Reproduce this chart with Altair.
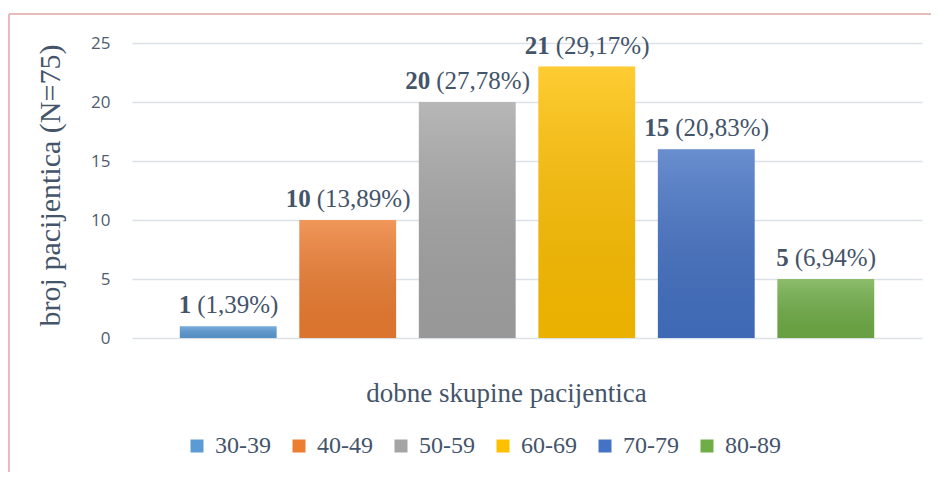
import altair as alt
import pandas as pd

categories = ["30-39", "40-49", "50-59", "60-69", "70-79", "80-89"]
bar_heights = [1, 10, 20, 23, 16, 5]
counts = [1, 10, 20, 21, 15, 5]
percents = ["(1,39%)", "(13,89%)", "(27,78%)", "(29,17%)", "(20,83%)", "(6,94%)"]
colors = ["#5B9BD5", "#ED7D31", "#A5A5A5", "#FFC000", "#4472C4", "#70AD47"]
y_ticks = [0, 5, 10, 15, 20, 25]

df = pd.DataFrame({
    "grupa": categories,
    "visina": bar_heights,
    "broj": [str(c) for c in counts],
    "postotak": percents,
})

TXT = "#44546A"
SERIF = "'Liberation Serif', 'Times New Roman', 'DejaVu Serif', serif"

x = alt.X(
    "grupa:N", sort=categories,
    scale=alt.Scale(paddingInner=0.19, paddingOuter=0.4),
    axis=alt.Axis(
        title="dobne skupine pacijentica", labels=False, ticks=False, domain=False,
        titleFont=SERIF, titleFontSize=27, titleFontWeight="normal", titleColor=TXT,
        titleX=374, titleY=55, titleAlign="center", titleBaseline="middle",
    ),
)
y = alt.Y(
    "visina:Q",
    scale=alt.Scale(domain=[0, 25]),
    axis=alt.Axis(
        values=y_ticks, title="broj pacijentica (N=75)", grid=True,
        gridColor="#DCE1E7", gridWidth=1.6, domain=False, ticks=False,
        labelFont="Open Sans", labelFontSize=17, labelColor="#4F5B6E", labelPadding=22,
        titleFont=SERIF, titleFontSize=30, titleFontWeight="normal", titleColor=TXT,
        titleAngle=270, titleX=-82, titleY=142, titleAlign="center", titleBaseline="middle",
    ),
)

base = alt.Chart(df)

bars = base.mark_bar().encode(
    x=x, y=y,
    color=alt.Color(
        "grupa:N", sort=categories,
        scale=alt.Scale(domain=categories, range=colors),
        legend=alt.Legend(
            orient="none", legendX=53, legendY=391, direction="horizontal", columns=6,
            title=None, symbolType="square", symbolSize=169, symbolStrokeWidth=0,
            labelFont=SERIF, labelFontSize=24, labelColor=TXT, labelOffset=6,
            columnPadding=16, padding=0,
        ),
    ),
)

shine = base.mark_bar(
    color=alt.Gradient(
        gradient="linear",
        stops=[
            alt.GradientStop(color="rgba(255,255,255,0.2)", offset=0),
            alt.GradientStop(color="rgba(0,0,0,0.08)", offset=1),
        ],
        x1=0, x2=0, y1=0, y2=1,
    )
).encode(x=x, y=y)

num = base.mark_text(
    font=SERIF, fontSize=25, fontWeight="bold", color=TXT,
    align="right", baseline="alphabetic", dx=-37, dy=-13,
).encode(x=x, y=y, text="broj:N")

pct = base.mark_text(
    font=SERIF, fontSize=25, color=TXT,
    align="left", baseline="alphabetic", dx=-31, dy=-13,
).encode(x=x, y=y, text="postotak:N")

frame_df = pd.DataFrame({"k": [0]})
left_border = alt.Chart(frame_df).mark_rule(color="#E6BBBA", strokeWidth=2).encode(
    x=alt.value(-123), y=alt.value(-29), y2=alt.value(440)
)
top_border = alt.Chart(frame_df).mark_rule(color="#E6BBBA", strokeWidth=2).encode(
    x=alt.value(-123), x2=alt.value(800), y=alt.value(-29)
)

chart = alt.layer(bars, shine, num, pct, left_border, top_border).properties(
    width=790, height=295,
    autosize=alt.AutoSizeParams(type="none"),
    padding={"left": 124, "top": 35, "right": 9, "bottom": 134},
).configure_view(stroke=None)

chart.save("out.html", embed_options={"renderer": "svg", "actions": False})
